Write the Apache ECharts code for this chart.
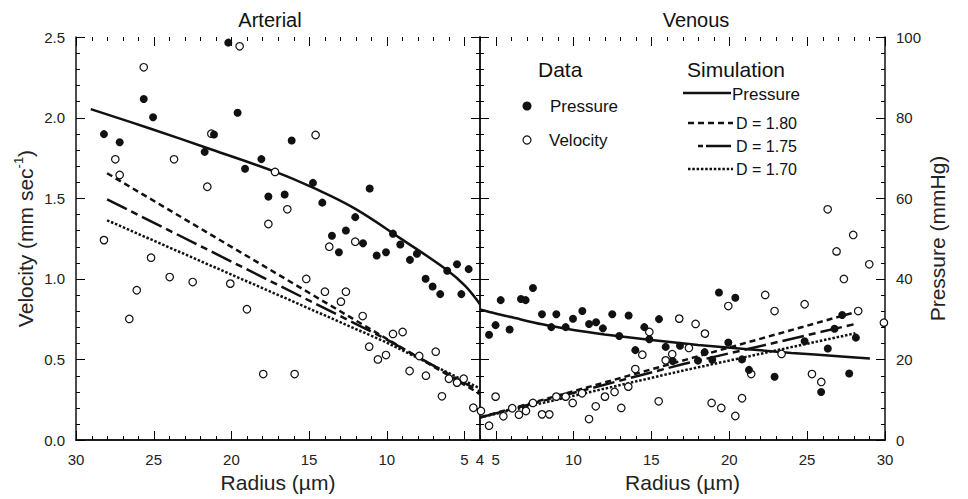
<!DOCTYPE html>
<html>
<head>
<meta charset="utf-8">
<script src="https://cdn.jsdelivr.net/npm/echarts@6/dist/echarts.min.js"></script>
<style>
  html, body { margin: 0; padding: 0; background: #fff; }
  #chart { width: 968px; height: 499px; }
</style>
</head>
<body>
<div id="chart"></div>
<script>
// tick positions (radius in µm, velocity in mm/s; pressure ticks share the velocity positions)
const radiusTicks = Array.from({ length: 27 }, (_, i) => 4 + i);
const velocityTicks = Array.from({ length: 26 }, (_, i) => Math.round(i) / 10);

// Arterial data: [radius, pressure mmHg] and [radius, velocity mm/s]
const arterialPressure = [
  [20.2, 98.6], [25.64, 84.6], [25.04, 80.1], [28.2, 75.9], [27.19, 73.9], [19.6, 81.2],
  [21.12, 75.8], [21.72, 71.5], [18.07, 69.7], [19.12, 67.3], [17.62, 60.4], [16.12, 74.3],
  [14.75, 63.8], [16.57, 60.9], [14.15, 58.9], [11.1, 62.4], [12.03, 55.3], [13.53, 50.7],
  [12.63, 52.0], [9.6, 51.2], [13.08, 46.6], [11.53, 48.8], [10.65, 45.8], [10.05, 46.6],
  [9.13, 48.5], [8.51, 44.7], [8.06, 46.2], [7.5, 40.0], [7.05, 38.1], [6.56, 36.2],
  [6.11, 42.0], [5.48, 43.6], [4.73, 42.4], [5.2, 36.2]
];
const arterialVelocity = [
  [19.47, 2.442], [25.64, 2.312], [27.47, 1.741], [27.19, 1.644], [23.69, 1.741], [21.55, 1.571],
  [21.29, 1.90], [17.19, 1.663], [17.62, 1.340], [28.2, 1.240], [25.17, 1.131], [23.97, 1.011],
  [22.49, 0.980], [26.09, 0.929], [26.57, 0.751], [20.07, 0.970], [19.0, 0.811], [17.95, 0.409],
  [14.58, 1.892], [16.4, 1.431], [13.7, 1.199], [12.03, 1.230], [15.18, 0.999], [13.98, 0.920],
  [12.63, 0.920], [12.95, 0.858], [11.55, 0.769], [11.13, 0.579], [10.57, 0.500], [10.05, 0.527],
  [9.6, 0.658], [8.98, 0.670], [7.91, 0.521], [8.53, 0.428], [7.48, 0.399], [6.85, 0.548],
  [6.45, 0.271], [6.0, 0.380], [5.48, 0.356], [5.05, 0.380], [4.43, 0.200], [15.93, 0.409]
];

// Venous data
const venousPressure = [
  [4.58, 26.1], [5.0, 28.5], [5.33, 34.7], [5.9, 27.4], [6.63, 35.0], [6.93, 34.7], [7.4, 37.7],
  [7.98, 31.2], [8.58, 28.0], [8.9, 31.2], [9.5, 28.0], [9.97, 30.1], [10.57, 32.0], [11.0, 28.8],
  [11.45, 29.2], [11.89, 27.7], [12.49, 31.2], [12.94, 25.8], [13.54, 30.9], [13.97, 22.3],
  [14.55, 28.0], [14.87, 25.0], [15.49, 30.0], [15.92, 23.1], [16.37, 19.6], [16.84, 23.4],
  [18.42, 21.8], [17.99, 19.7], [18.91, 19.9], [19.34, 36.6], [19.94, 24.2], [20.39, 35.3],
  [20.82, 20.0], [21.27, 17.4], [22.91, 15.7], [24.84, 24.5], [26.33, 22.7], [25.9, 11.9],
  [27.25, 31.0], [26.76, 27.6], [27.7, 16.5], [28.13, 25.4]
];
const venousVelocity = [
  [4.06, 0.180], [4.58, 0.089], [5.0, 0.269], [5.5, 0.147], [6.07, 0.197], [6.5, 0.157],
  [6.95, 0.180], [7.4, 0.230], [7.98, 0.159], [8.45, 0.159], [8.9, 0.269], [9.5, 0.269],
  [9.95, 0.230], [10.55, 0.290], [11.0, 0.130], [11.43, 0.209], [12.02, 0.269], [12.64, 0.298],
  [13.07, 0.199], [13.52, 0.331], [13.97, 0.440], [14.42, 0.529], [14.87, 0.670], [15.47, 0.240],
  [15.92, 0.494], [16.34, 0.532], [16.79, 0.753], [17.41, 0.571], [17.84, 0.720], [18.44, 0.660],
  [18.87, 0.230], [19.49, 0.199], [19.94, 0.831], [20.39, 0.149], [20.82, 0.259], [21.41, 0.409],
  [22.31, 0.900], [22.91, 0.800], [23.36, 0.534], [24.84, 0.842], [25.31, 0.409], [25.91, 0.360],
  [26.32, 1.431], [26.89, 1.170], [27.36, 0.999], [27.96, 1.272], [28.28, 0.800], [28.99, 1.090],
  [29.93, 0.728]
];

// Simulation curves
const arterialSimPressure = [
  [29.05, 82.1], [25.24, 77.3], [21.38, 72.2], [17.0, 66.3], [14.75, 62.6], [12.05, 57.4],
  [9.15, 50.1], [6.13, 42.2], [4.97, 38.3], [4.0, 33.7]
];
const arterialD180 = [[28, 1.655], [4, 0.285]];
const arterialD175 = [[28, 1.493], [17, 0.962], [10.13, 0.63], [4, 0.30]];
const arterialD170 = [[28, 1.363], [17, 0.900], [10.13, 0.61], [4, 0.32]];

const venousSimPressure = [
  [4.0, 32.4], [5, 31.4], [6, 30.5], [8, 28.7], [10, 27.3], [12, 26.2], [15, 24.8],
  [18, 23.6], [21, 22.6], [24, 21.6], [27, 20.8], [29.03, 20.2]
];
const venousD180 = [[4, 0.14], [28.2, 0.796]];
const venousD175 = [[4, 0.14], [17, 0.47], [28.1, 0.72]];
const venousD170 = [[4, 0.14], [17, 0.43], [28.1, 0.662]];

const FONT = '"Liberation Sans", Arial, Helvetica, sans-serif';
const INK = '#111';

function radiusAxes(grid, inverse, labelFmt, name) {
  let common = { type: 'value', gridIndex: grid, min: 4, max: 30, inverse: inverse, splitLine: { show: false } };
  return [
    // bottom: line + labels
    Object.assign({}, common, {
      position: 'bottom', interval: 1,
      axisLine: { show: true, lineStyle: { color: INK, width: 1.5 } },
      axisTick: { show: false },
      axisLabel: { show: true, color: '#222', fontSize: 15, fontFamily: FONT, margin: 12, formatter: labelFmt },
      name: name, nameLocation: 'middle', nameGap: 30,
      nameTextStyle: { color: '#222', fontSize: 21, fontFamily: FONT }
    }),
    // top: frame line
    Object.assign({}, common, {
      position: 'top', interval: 1, axisLabel: { show: false }, axisTick: { show: false },
      axisLine: { show: true, lineStyle: { color: INK, width: 1.5 } }
    })
  ];
}

function valueAxis(grid, pos, max, step, showLabel, extra) {
  return Object.assign({
    type: 'value', gridIndex: grid, position: pos, min: 0, max: max, interval: step,
    splitLine: { show: false },
    axisLine: { show: true, lineStyle: { color: INK, width: 1.5 } },
    axisTick: { show: false },
    axisLabel: { show: showLabel, color: '#222', fontSize: 15, fontFamily: FONT, margin: 11 }
  }, extra || {});
}

// xAxis 0,1 -> arterial (bottom, top); 2,3 -> venous (bottom, top)
const xAxes = [].concat(
  radiusAxes(0, true, v => (v % 5 === 0 || v === 4) ? String(v) : '', 'Radius (µm)'),
  radiusAxes(1, false, v => (v % 5 === 0) ? String(v) : '', 'Radius (µm)')
);

const yAxes = [
  // 0: arterial velocity (left, labelled)
  valueAxis(0, 'left', 2.5, 0.5, true, {
    name: 'Velocity (mm sec{sup|-1})', nameLocation: 'middle', nameRotate: 90, nameGap: 38,
    nameTextStyle: {
      color: '#222', fontSize: 21, fontFamily: FONT, lineHeight: 26,
      rich: { sup: { fontSize: 13, fontFamily: FONT, color: '#222', verticalAlign: 'top', lineHeight: 13 } }
    }
  }),
  // 1: arterial pressure (divider side)
  valueAxis(0, 'right', 100, 20, false),
  // 2: venous velocity (divider side)
  valueAxis(1, 'left', 2.5, 0.5, false),
  // 3: venous pressure (right, labelled)
  valueAxis(1, 'right', 100, 20, true, {
    name: 'Pressure (mmHg)', nameLocation: 'middle', nameRotate: 90, nameGap: 42,
    nameTextStyle: { color: '#222', fontSize: 21, fontFamily: FONT }
  })
];
yAxes[0].axisLabel.formatter = v => v.toFixed(1);

// inward frame ticks, placed through the axes' own scales
function tickData() {
  let d = [];
  radiusTicks.forEach(r => d.push([0, r, r % 5 === 0 ? 9 : 4]));
  velocityTicks.forEach(v => d.push([1, v, Math.round(v * 10) % 5 === 0 ? 9 : 4]));
  return d;
}
function seg(x1, y1, x2, y2) {
  return { type: 'line', shape: { x1: x1, y1: y1, x2: x2, y2: y2 }, style: { stroke: '#000', lineWidth: 1 } };
}
function tickSeries(xi, yi, leftVal, rightVal) {
  return {
    type: 'custom', xAxisIndex: xi, yAxisIndex: yi, silent: true, z: 3, clip: false,
    data: tickData(),
    renderItem: function (params, api) {
      let kind = api.value(0), v = api.value(1), len = api.value(2);
      if (kind === 0) {
        let a = api.coord([v, 0]), b = api.coord([v, 2.5]);
        let x = Math.round(a[0]) + 0.5;
        return { type: 'group', children: [seg(x, a[1], x, a[1] - len), seg(x, b[1], x, b[1] + len)] };
      }
      let a = api.coord([leftVal, v]), b = api.coord([rightVal, v]);
      let y = Math.round(a[1]) + 0.5;
      return { type: 'group', children: [seg(a[0], y, a[0] + len, y), seg(b[0], y, b[0] - len, y)] };
    }
  };
}

function simLine(data, xi, yi, dash, smooth) {
  return {
    type: 'line', data: data, xAxisIndex: xi, yAxisIndex: yi, showSymbol: false, symbol: 'none',
    smooth: smooth || false, silent: true, z: 2,
    lineStyle: { color: INK, width: 2.5, type: dash, opacity: 1 }
  };
}
function dots(data, xi, yi, filled) {
  return {
    type: 'scatter', data: data, xAxisIndex: xi, yAxisIndex: yi, symbol: 'circle',
    symbolSize: filled ? 8 : 7.5, z: 5,
    itemStyle: filled ? { color: INK, opacity: 1 } : { color: '#fff', borderColor: INK, borderWidth: 1.2, opacity: 1 }
  };
}

const DASH_180 = [6, 4];
const DASH_175 = [22, 5, 7, 5];
const DOT_170 = [2.5, 1.8];

const series = [
  tickSeries(0, 0, 30, 4),
  tickSeries(2, 2, 4, 30),
  simLine(arterialSimPressure, 0, 1, 'solid', 0.4),
  simLine(arterialD180, 0, 0, DASH_180),
  simLine(arterialD175, 0, 0, DASH_175),
  simLine(arterialD170, 0, 0, DOT_170),
  simLine(venousSimPressure, 2, 3, 'solid', 0.3),
  simLine(venousD180, 2, 2, DASH_180),
  simLine(venousD175, 2, 2, DASH_175),
  simLine(venousD170, 2, 2, DOT_170),
  dots(arterialVelocity, 0, 0, false),
  dots(arterialPressure, 0, 1, true),
  dots(venousVelocity, 2, 2, false),
  dots(venousPressure, 2, 3, true)
];

function label(text, x, y, size, align) {
  return {
    type: 'text', x: x, y: y, z: 10,
    style: { text: text, fill: '#111', font: size + 'px ' + FONT, align: align || 'left', textAlign: align || 'left',
             verticalAlign: 'middle', textVerticalAlign: 'middle' }
  };
}
function legendLine(x1, x2, y, dash) {
  return { type: 'line', z: 10, shape: { x1: x1, y1: y, x2: x2, y2: y },
           style: { stroke: INK, lineWidth: 2.5, lineDash: dash } };
}

const graphic = [
  label('Arterial', 270, 20, 20, 'center'),
  label('Venous', 696, 20, 20, 'center'),
  label('Data', 538, 69, 21),
  { type: 'circle', z: 10, shape: { cx: 527, cy: 106, r: 4.5 }, style: { fill: INK } },
  label('Pressure', 550, 106, 17),
  { type: 'circle', z: 10, shape: { cx: 527, cy: 140, r: 4 }, style: { fill: '#fff', stroke: INK, lineWidth: 1.2 } },
  label('Velocity', 549, 140, 17),
  label('Simulation', 687, 69, 21),
  legendLine(683, 731, 93, null),
  label('Pressure', 732, 94, 17),
  legendLine(688, 733, 123, DASH_180),
  label('D = 1.80', 736, 123, 16),
  legendLine(698, 731, 146, [5, 3, 40]),
  label('D = 1.75', 736, 146, 16),
  legendLine(688, 733, 169, DOT_170),
  label('D = 1.70', 736, 169, 16)
];

const chart = echarts.init(document.getElementById('chart'), null, { renderer: 'svg' });
chart.setOption({
  animation: false,
  backgroundColor: '#fff',
  grid: [
    { left: 76, top: 37, width: 404, height: 403 },
    { left: 480, top: 37, width: 405, height: 403 }
  ],
  xAxis: xAxes,
  yAxis: yAxes,
  series: series,
  graphic: graphic
});
</script>
</body>
</html>
